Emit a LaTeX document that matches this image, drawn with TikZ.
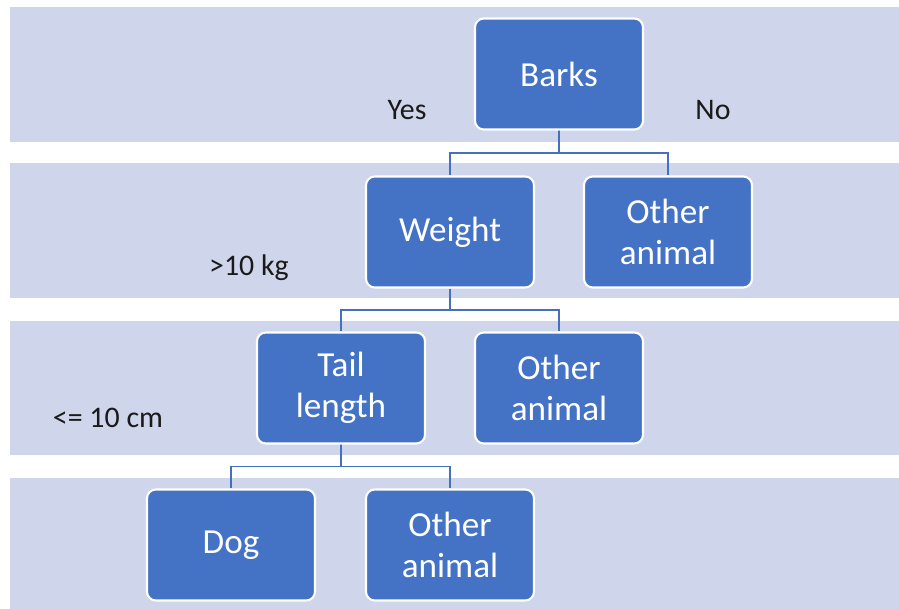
\documentclass[tikz,border=0pt]{standalone}
\usepackage{fontspec}
\setmainfont{Carlito}
\usepackage{xcolor}
\usetikzlibrary{positioning,calc}
\definecolor{bandbg}{HTML}{CFD5EA}
\definecolor{boxblue}{HTML}{4472C4}
\definecolor{linkblue}{HTML}{4470BE}
\definecolor{ink}{HTML}{1A1A1A}
\tikzset{
  treebox/.style={draw=white,fill=boxblue,line width=1.2pt,rounded corners=5pt,
                  minimum width=3.36cm,minimum height=2.22cm,inner sep=2pt,
                  align=center,text=white,
                  font=\fontsize{20}{23}\selectfont},
  cond/.style={text=ink,inner sep=0pt,font=\fontsize{17}{20}\selectfont},
  link/.style={draw=linkblue,line width=1.1pt},
  band/.style={fill=bandbg}
}

\begin{document}
\begin{tikzpicture}[x=0.2mm,y=-0.2mm]
  \useasboundingbox (0,0) rectangle (899,609);
  % background bands, one per level
  \fill[band] (10,7) rectangle (899,142);
  \fill[band] (10,163) rectangle (899,298);
  \fill[band] (10,321) rectangle (899,455);
  \fill[band] (10,478) rectangle (899,609);

  % decision nodes and leaves
  \node[treebox] (barks) at (559,74) {Barks};
  \node[treebox] (weight) at (450,232) {Weight};
  \node[treebox] (other1) at (668,232) {Other\\animal};
  \node[treebox] (tail) at (341,388) {Tail\\length};
  \node[treebox] (other2) at (559,388) {Other\\animal};
  \node[treebox] (dog) at (231,545) {Dog};
  \node[treebox] (other3) at (450,545) {Other\\animal};

  % branch conditions
  \node[cond] (yes) at (407,110) {Yes};
  \node[cond] (no) at (713,110) {No};
  \node[cond] (heavy) at (249,268) {>10 kg};
  \node[cond] (short) at (108,418) {<= 10 cm};

  % connectors
  \draw[link] (barks.south) -- ($(barks.south)!0.5!(barks.south|-weight.north)$) coordinate (j1);
  \draw[link] (j1) -| (weight.north);
  \draw[link] (j1) -| (other1.north);
  \draw[link] (weight.south) -- ($(weight.south)!0.5!(weight.south|-tail.north)$) coordinate (j2);
  \draw[link] (j2) -| (tail.north);
  \draw[link] (j2) -| (other2.north);
  \draw[link] (tail.south) -- ($(tail.south)!0.5!(tail.south|-dog.north)$) coordinate (j3);
  \draw[link] (j3) -| (dog.north);
  \draw[link] (j3) -| (other3.north);
\end{tikzpicture}
\end{document}
